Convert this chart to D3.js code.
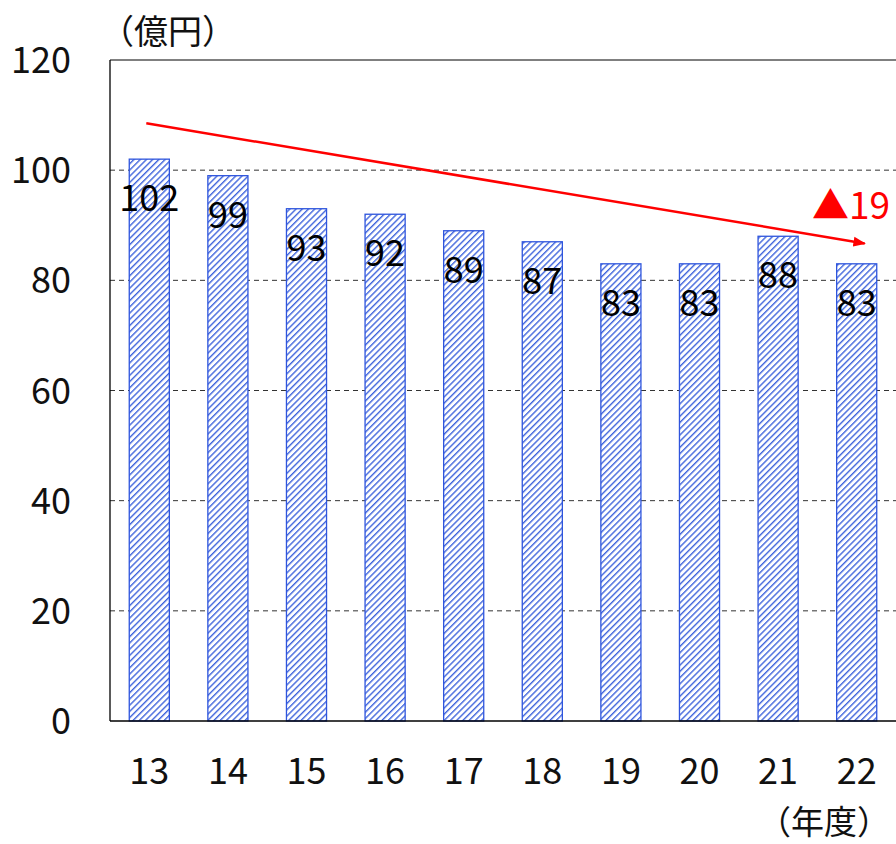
<!DOCTYPE html>
<html>
<head>
<meta charset="utf-8">
<script src="https://cdn.jsdelivr.net/npm/d3@7"></script>
<style>
  body { margin: 0; background: #fff; }
  text { font-family: "Noto Sans CJK JP", "Noto Sans", sans-serif; }
</style>
</head>
<body>
<script>
// data
const years = ["13", "14", "15", "16", "17", "18", "19", "20", "21", "22"];
const values = [102, 99, 93, 92, 89, 87, 83, 83, 88, 83];
const yTicks = [0, 20, 40, 60, 80, 100, 120];
const trendStart = {year: "13", value: 108.5};
const trendEnd = {year: "22", value: 86.7};
const trendLabel = "▲19";

const width = 896, height = 844;
const plotLeft = 110, plotTop = 60, plotBottom = 721, plotRight = 896;

const svg = d3.select("body").append("svg")
    .attr("width", width)
    .attr("height", height);

const defs = svg.append("defs");
const pat = defs.append("pattern")
    .attr("id", "hatch")
    .attr("patternUnits", "userSpaceOnUse")
    .attr("width", 4.4)
    .attr("height", 4.4)
    .attr("patternTransform", "rotate(45)");
pat.append("rect").attr("width", 4.4).attr("height", 4.4).attr("fill", "#fff");
pat.append("line")
    .attr("x1", 0).attr("y1", 0).attr("x2", 0).attr("y2", 4.4)
    .attr("stroke", "#3f64dc")
    .attr("stroke-width", 2.8);

const arrowMarker = defs.append("marker")
    .attr("id", "arrow")
    .attr("viewBox", "0 0 10 10")
    .attr("refX", 9).attr("refY", 5)
    .attr("markerWidth", 5).attr("markerHeight", 5)
    .attr("orient", "auto");
arrowMarker.append("path").attr("d", "M0,1 L10,5 L0,9 Z").attr("fill", "#ff0000");

const x = d3.scaleBand().domain(years).range([plotLeft, plotRight]).paddingInner(0.49).paddingOuter(0.245);
const y = d3.scaleLinear().domain([0, 120]).range([plotBottom, plotTop]);

// gridlines
svg.append("g").selectAll("line")
    .data(yTicks.filter(t => t > 0 && t < 120))
    .enter().append("line")
    .attr("x1", plotLeft).attr("x2", plotRight)
    .attr("y1", d => y(d)).attr("y2", d => y(d))
    .attr("stroke", "#333")
    .attr("stroke-width", 1)
    .attr("stroke-dasharray", "5,4");

// frame top
svg.append("line").attr("x1", plotLeft).attr("x2", plotRight).attr("y1", y(120)).attr("y2", y(120))
    .attr("stroke", "#000").attr("stroke-width", 1);

// bars
svg.append("g").selectAll("rect")
    .data(values)
    .enter().append("rect")
    .attr("x", (d, i) => x(years[i]))
    .attr("y", d => y(d))
    .attr("width", x.bandwidth())
    .attr("height", d => y(0) - y(d))
    .attr("fill", "url(#hatch)")
    .attr("stroke", "#2f55dd")
    .attr("stroke-width", 1.3);

// axes lines
svg.append("line").attr("x1", plotLeft).attr("x2", plotLeft).attr("y1", y(120)).attr("y2", y(0))
    .attr("stroke", "#000").attr("stroke-width", 1.3);
svg.append("line").attr("x1", plotLeft).attr("x2", plotRight).attr("y1", y(0)).attr("y2", y(0))
    .attr("stroke", "#000").attr("stroke-width", 1.6);

// value labels
svg.append("g").selectAll("text")
    .data(values)
    .enter().append("text")
    .attr("x", (d, i) => x(years[i]) + x.bandwidth() / 2)
    .attr("y", d => y(d) + 52)
    .attr("text-anchor", "middle")
    .attr("font-size", 36)
    .attr("fill", "#000")
    .text(d => d);

// y tick labels
svg.append("g").selectAll("text")
    .data(yTicks)
    .enter().append("text")
    .attr("x", 71)
    .attr("y", d => y(d) + 13)
    .attr("text-anchor", "end")
    .attr("font-size", 36)
    .attr("fill", "#111")
    .text(d => d);

// x tick labels
svg.append("g").selectAll("text")
    .data(years)
    .enter().append("text")
    .attr("x", d => x(d) + x.bandwidth() / 2)
    .attr("y", 784)
    .attr("text-anchor", "middle")
    .attr("font-size", 36)
    .attr("fill", "#111")
    .text(d => d);

svg.append("text")
    .attr("x", 100).attr("y", 44)
    .attr("font-size", 34)
    .attr("fill", "#111")
    .text("（億円）");

svg.append("text")
    .attr("x", 890).attr("y", 834)
    .attr("text-anchor", "end")
    .attr("font-size", 33)
    .attr("fill", "#111")
    .text("（年度）");

// trend arrow
svg.append("line")
    .attr("x1", x(trendStart.year) + x.bandwidth() / 2 - 3)
    .attr("y1", y(trendStart.value))
    .attr("x2", x(trendEnd.year) + x.bandwidth() / 2 + 8)
    .attr("y2", y(trendEnd.value))
    .attr("stroke", "#ff0000")
    .attr("stroke-width", 2.5)
    .attr("marker-end", "url(#arrow)");

svg.append("text")
    .attr("x", 812).attr("y", 219)
    .attr("font-size", 37)
    .attr("fill", "#ff0000")
    .text(trendLabel);
</script>
</body>
</html>
